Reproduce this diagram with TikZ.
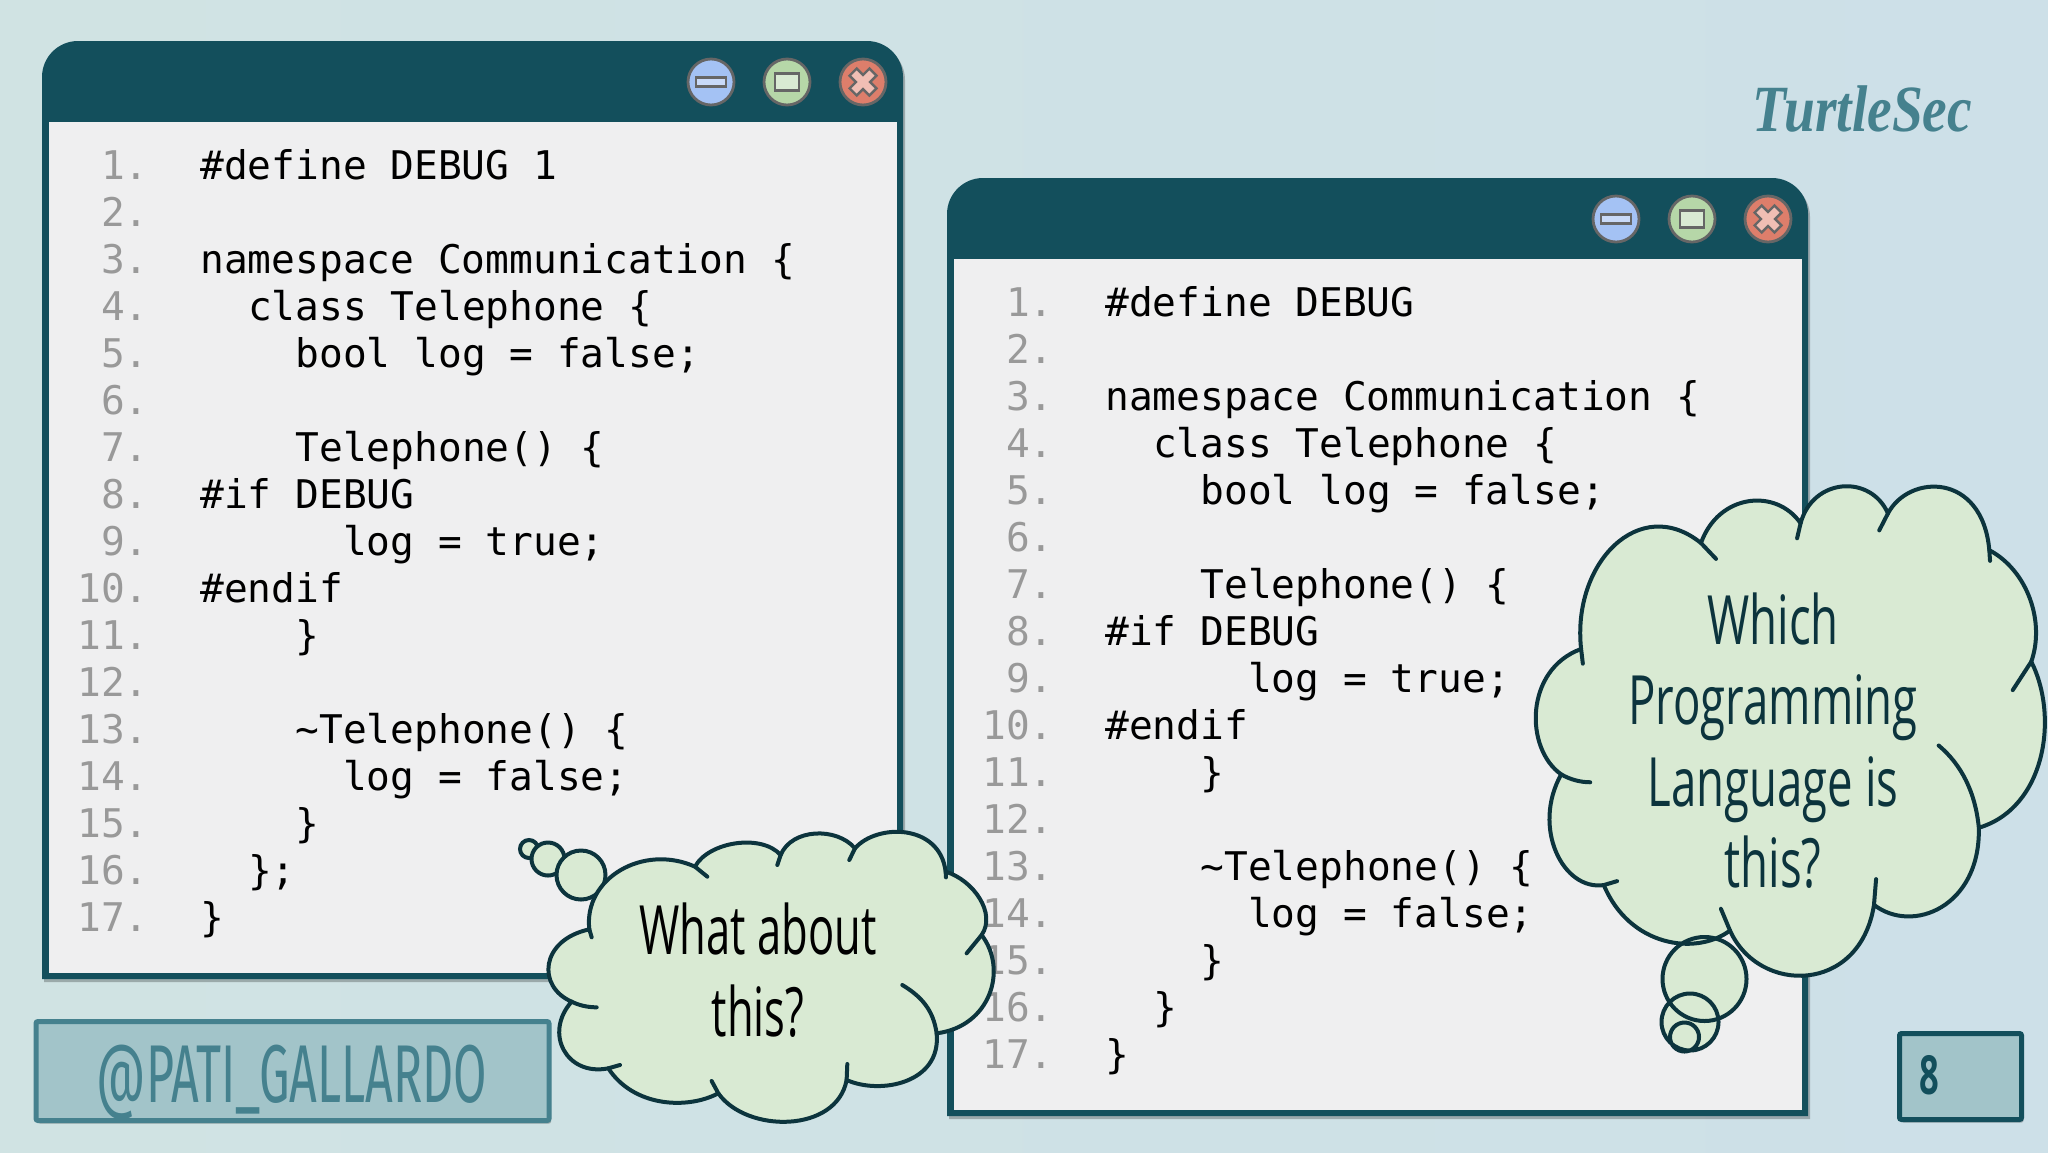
\documentclass[tikz,border=0pt]{standalone}
\usepackage{fontspec}
\usepackage{tikz}
\usetikzlibrary{shadows}
\newfontfamily\codefont{DejaVu Sans Mono}
\newfontfamily\bubblefont[FakeStretch=0.64]{Open Sans}
\newfontfamily\widebubblefont[FakeStretch=0.67]{Open Sans}
\newfontfamily\handlefont[FakeStretch=0.59]{Fira Sans}
\newfontfamily\logofont[FakeStretch=0.84]{Liberation Serif}
\definecolor{deepteal}{HTML}{134F5C}
\definecolor{inkteal}{HTML}{0C343D}
\definecolor{midteal}{HTML}{45818E}
\definecolor{paleteal}{HTML}{A2C4C9}
\definecolor{cloudgreen}{HTML}{D9EAD3}
\definecolor{codepaper}{HTML}{EFEFF0}
\definecolor{minblue}{HTML}{A4C2F4}
\definecolor{maxgreen}{HTML}{B6D7A8}
\definecolor{closered}{HTML}{DD7E6B}
\definecolor{minicon}{HTML}{C9DAF8}
\definecolor{closeicon}{HTML}{F0BEB4}
\definecolor{bgleft}{HTML}{D0E3E3}
\definecolor{bgright}{HTML}{CDE0E8}
\tikzset{
softshadow/.style={drop shadow={shadow xshift=1pt,shadow yshift=-1.5pt,opacity=.25,fill=black}},
codeline/.style={anchor=base west,inner sep=0pt,font=\codefont\fontsize{19.75}{24}\selectfont},
linenum/.style={anchor=base east,inner sep=0pt,text=black!40,font=\codefont\fontsize{19.75}{24}\selectfont},
winbtn/.style={circle,minimum size=23pt,inner sep=0pt,draw=black!60,line width=1.4pt},
btnicon/.style={draw=black!60,line width=1.2pt},
cloudline/.style={draw=inkteal,line width=2pt,line cap=round,line join=round},
bubble/.style={circle,inner sep=0pt,draw=inkteal,line width=2pt,fill=cloudgreen},
cloudtext/.style={anchor=base,inner sep=0pt,font=\bubblefont\fontsize{34}{40}\selectfont},
widecloudtext/.style={anchor=base,inner sep=0pt,text=inkteal,font=\widebubblefont\fontsize{34}{40}\selectfont},
tagbox/.style={draw=midteal,line width=2.5pt,fill=paleteal,rounded corners=1pt,softshadow}
}
\newcommand{\codewindow}[5]{
\begin{scope}[shift={(#2,#3)}]
\path[fill=deepteal,softshadow] (42,979) [rounded corners=18pt] -- (42,41) -- (903,41) [sharp corners] -- (903,979) -- cycle;
\fill[codepaper] (48.5,122) rectangle (897,973);
\node (#1min) at (711,82) [winbtn,fill=minblue] {};
\node (#1max) at (787,82) [winbtn,fill=maxgreen] {};
\node (#1close) at (863,82) [winbtn,fill=closered] {};
\draw[btnicon,fill=minicon] (696,77.5) rectangle (726,86.5);
\draw[btnicon,fill=cloudgreen] (775,73.5) rectangle (799,90.5);
\draw[btnicon,fill=closeicon,shift={(863,82)},rotate=45] (-14,-5) -- (-5,-5) -- (-5,-14) -- (5,-14) -- (5,-5) -- (14,-5) -- (14,5) -- (5,5) -- (5,14) -- (-5,14) -- (-5,5) -- (-14,5) -- cycle;
\foreach \n/\ind/\txt in {1/0/{#4},2/0/,3/0/namespace Communication \{,4/2/class Telephone \{,5/4/bool log = false;,6/0/,7/4/Telephone() \{,8/0/\#if DEBUG,9/6/log = true;,10/0/\#endif,11/4/\},12/0/,13/4/\textasciitilde Telephone() \{,14/6/log = false;,15/4/\},16/2/{#5},17/0/\}}{
\node (#1num\n) at (149,{179+47*(\n-1)}) [linenum] {\n.};
\node (#1code\n) at ({200+23.8*\ind},{179+47*(\n-1)}) [codeline] {\txt};
}
\end{scope}
}
\begin{document}
\begin{tikzpicture}[x=0.5pt,y=-0.5pt]
\useasboundingbox (0,0) rectangle (2048,1152);
\shade[left color=bgleft,right color=bgright] (0,0) rectangle (2048,1152);
\node (logo) at (1752,131) [anchor=base west,inner sep=0pt,text=midteal,font=\logofont\bfseries\itshape\fontsize{33}{40}\selectfont] {TurtleSec};
\codewindow{left}{0}{0}{\#define DEBUG 1}{\};}
\codewindow{right}{905}{137}{\#define DEBUG}{\}}
\draw[tagbox] (36,1021.5) rectangle (549,1120.5);
\node (handle) at (292,1102) [anchor=base,inner sep=0pt,text=midteal,font=\handlefont\fontsize{41}{48}\selectfont] {@PATI\_GALLARDO};
\draw[tagbox,draw=deepteal] (1899.5,1033.5) rectangle (2021.5,1119.5);
\node (pagenum) at (1929,1094) [anchor=base,inner sep=0pt,text=deepteal,font=\bubblefont\bfseries\fontsize{27}{32}\selectfont] {8};
\node (puffa) at (529,849) [bubble,minimum size=9pt] {};
\node (puffb) at (548,859) [bubble,minimum size=16.5pt] {};
\node (puffc) at (581,875) [bubble,minimum size=24.5pt] {};
\begin{scope}[shift={(500,800)},scale=0.3333]
\path[cloudline,fill=cloudgreen] (268,388) .. controls (250,235) and (430,130) .. (585,200) .. controls (625,125) and (785,100) .. (842,165) .. controls (875,85) and (1010,80) .. (1065,145) .. controls (1130,70) and (1320,70) .. (1337,215) .. controls (1420,240) and (1490,340) .. (1445,405) .. controls (1525,510) and (1470,680) .. (1310,700) .. controls (1325,850) and (1140,885) .. (1040,840) .. controls (1010,1000) and (740,1000) .. (655,880) .. controls (560,930) and (400,920) .. (325,805) .. controls (200,830) and (130,700) .. (215,605) .. controls (110,560) and (120,420) .. (268,388) -- cycle;
\draw[cloudline] (1310,700) .. controls (1300,630) and (1265,590) .. (1207,555);
\draw[cloudline] (215,605) .. controls (235,615) and (260,622) .. (290,622);
\draw[cloudline] (585,200) -- (622,230) (842,165) -- (832,195) (1065,145) -- (1048,180) (1337,215) -- (1338,232) (1445,405) -- (1400,460) (1040,840) -- (1042,792) (655,880) -- (635,843) (325,805) -- (360,795) (268,388) -- (275,412);
\end{scope}
\node (cloudaa) at (758,954) [cloudtext] {What about};
\node (cloudab) at (758,1036) [cloudtext] {this?};
\fill[cloudgreen] (1704.5,979) circle (42);
\fill[cloudgreen] (1690,1022) circle (28.5);
\fill[cloudgreen] (1684.5,1037) circle (14.5);
\begin{scope}[shift={(1500,460)},xscale=0.3495,yscale=0.3954]
\path[cloudline,fill=cloudgreen] (232,478) .. controls (205,260) and (400,85) .. (575,210) .. controls (625,85) and (790,70) .. (860,160) .. controls (895,45) and (1060,35) .. (1110,135) .. controls (1170,35) and (1380,30) .. (1400,228) .. controls (1510,280) and (1560,410) .. (1520,510) .. controls (1600,650) and (1560,880) .. (1370,930) .. controls (1375,1130) and (1180,1200) .. (1070,1125) .. controls (1030,1352) and (740,1352) .. (658,1190) .. controls (560,1255) and (370,1230) .. (297,1075) .. controls (180,1090) and (90,930) .. (175,795) .. controls (70,730) and (70,530) .. (232,478) -- cycle;
\draw[cloudline] (1370,930) .. controls (1360,840) and (1320,770) .. (1255,722);
\draw[cloudline] (175,795) .. controls (200,808) and (230,815) .. (258,815);
\draw[cloudline] (575,210) -- (618,250) (860,160) -- (850,198) (1110,135) -- (1085,178) (1400,228) -- (1402,255) (1520,510) -- (1467,582) (1070,1125) -- (1076,1060) (658,1190) -- (632,1135) (297,1075) -- (335,1065) (232,478) -- (237,515);
\end{scope}
\draw[draw=inkteal,line width=2pt] (1704.5,979) circle (42) (1690,1022) circle (28.5) (1684.5,1037) circle (14.5);
\foreach \n/\y/\txt in {a/644/Which,b/724/Programming,c/806/Language is,d/887/this?}{
\node (cloudb\n) at (1773,\y) [widecloudtext] {\txt};
}
\end{tikzpicture}
\end{document}
